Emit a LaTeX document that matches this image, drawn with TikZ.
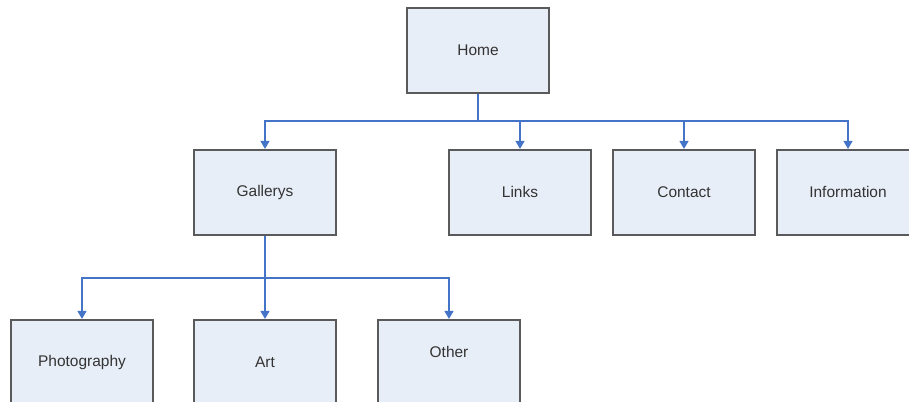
\documentclass[tikz,border=0pt]{standalone}
\usepackage{fontspec}
\setmainfont{Liberation Sans}
\usepackage{xcolor}
\definecolor{siteText}{HTML}{333333}
\definecolor{siteNode}{HTML}{E8EEF8}
\definecolor{siteBorder}{HTML}{5A5A5A}
\definecolor{siteLink}{HTML}{4474C8}
\usetikzlibrary{arrows.meta,positioning,calc}
\tikzset{
    page/.style={
        draw=siteBorder,
        fill=siteNode,
        rectangle,
        align=center,
        minimum height=2.125cm,
        minimum width=3.55cm,
        line width=1.3pt,
        text=siteText,
        font=\fontsize{11}{13}\selectfont
    },
    link/.style={
        -{Triangle[width=2.2mm,length=2mm]},
        line width=1.2pt,
        color=siteLink
    }
}

\begin{document}
\begin{tikzpicture}
    \useasboundingbox (0,0) rectangle (22.725,-10.05);
    \clip (0,0) rectangle (22.725,-10.05);

    % Top level
    \node[page] (home) at (11.95,-1.26) {Home};

    % Second level
    \node[page] (gallerys) at (6.625,-4.81) {Gallerys};
    \node[page] (links) at (13.0,-4.81) {Links};
    \node[page] (contact) at (17.1,-4.81) {Contact};
    \node[page] (information) at (21.2,-4.81) {Information};

    % Third level
    \node[page] (photography) at (2.05,-9.06) {Photography};
    \node[page] (art) at (6.625,-9.06) {Art};
    \node[page, text depth=0.55cm] (other) at (11.225,-9.06) {Other};

    % Branch points
    \coordinate (homebus) at ($(home.south)+(0,-0.68)$);
    \coordinate (gallerybus) at ($(gallerys.south)+(0,-1.05)$);

    % Connections
    \draw[link] (home.south) -- (homebus) -| (gallerys.north);
    \draw[link] (homebus) -| (links.north);
    \draw[link] (homebus) -| (contact.north);
    \draw[link] (homebus) -| (information.north);
    \draw[link] (gallerys.south) -- (gallerybus) -| (photography.north);
    \draw[link] (gallerybus) -- (art.north);
    \draw[link] (gallerybus) -| (other.north);
\end{tikzpicture}
\end{document}
